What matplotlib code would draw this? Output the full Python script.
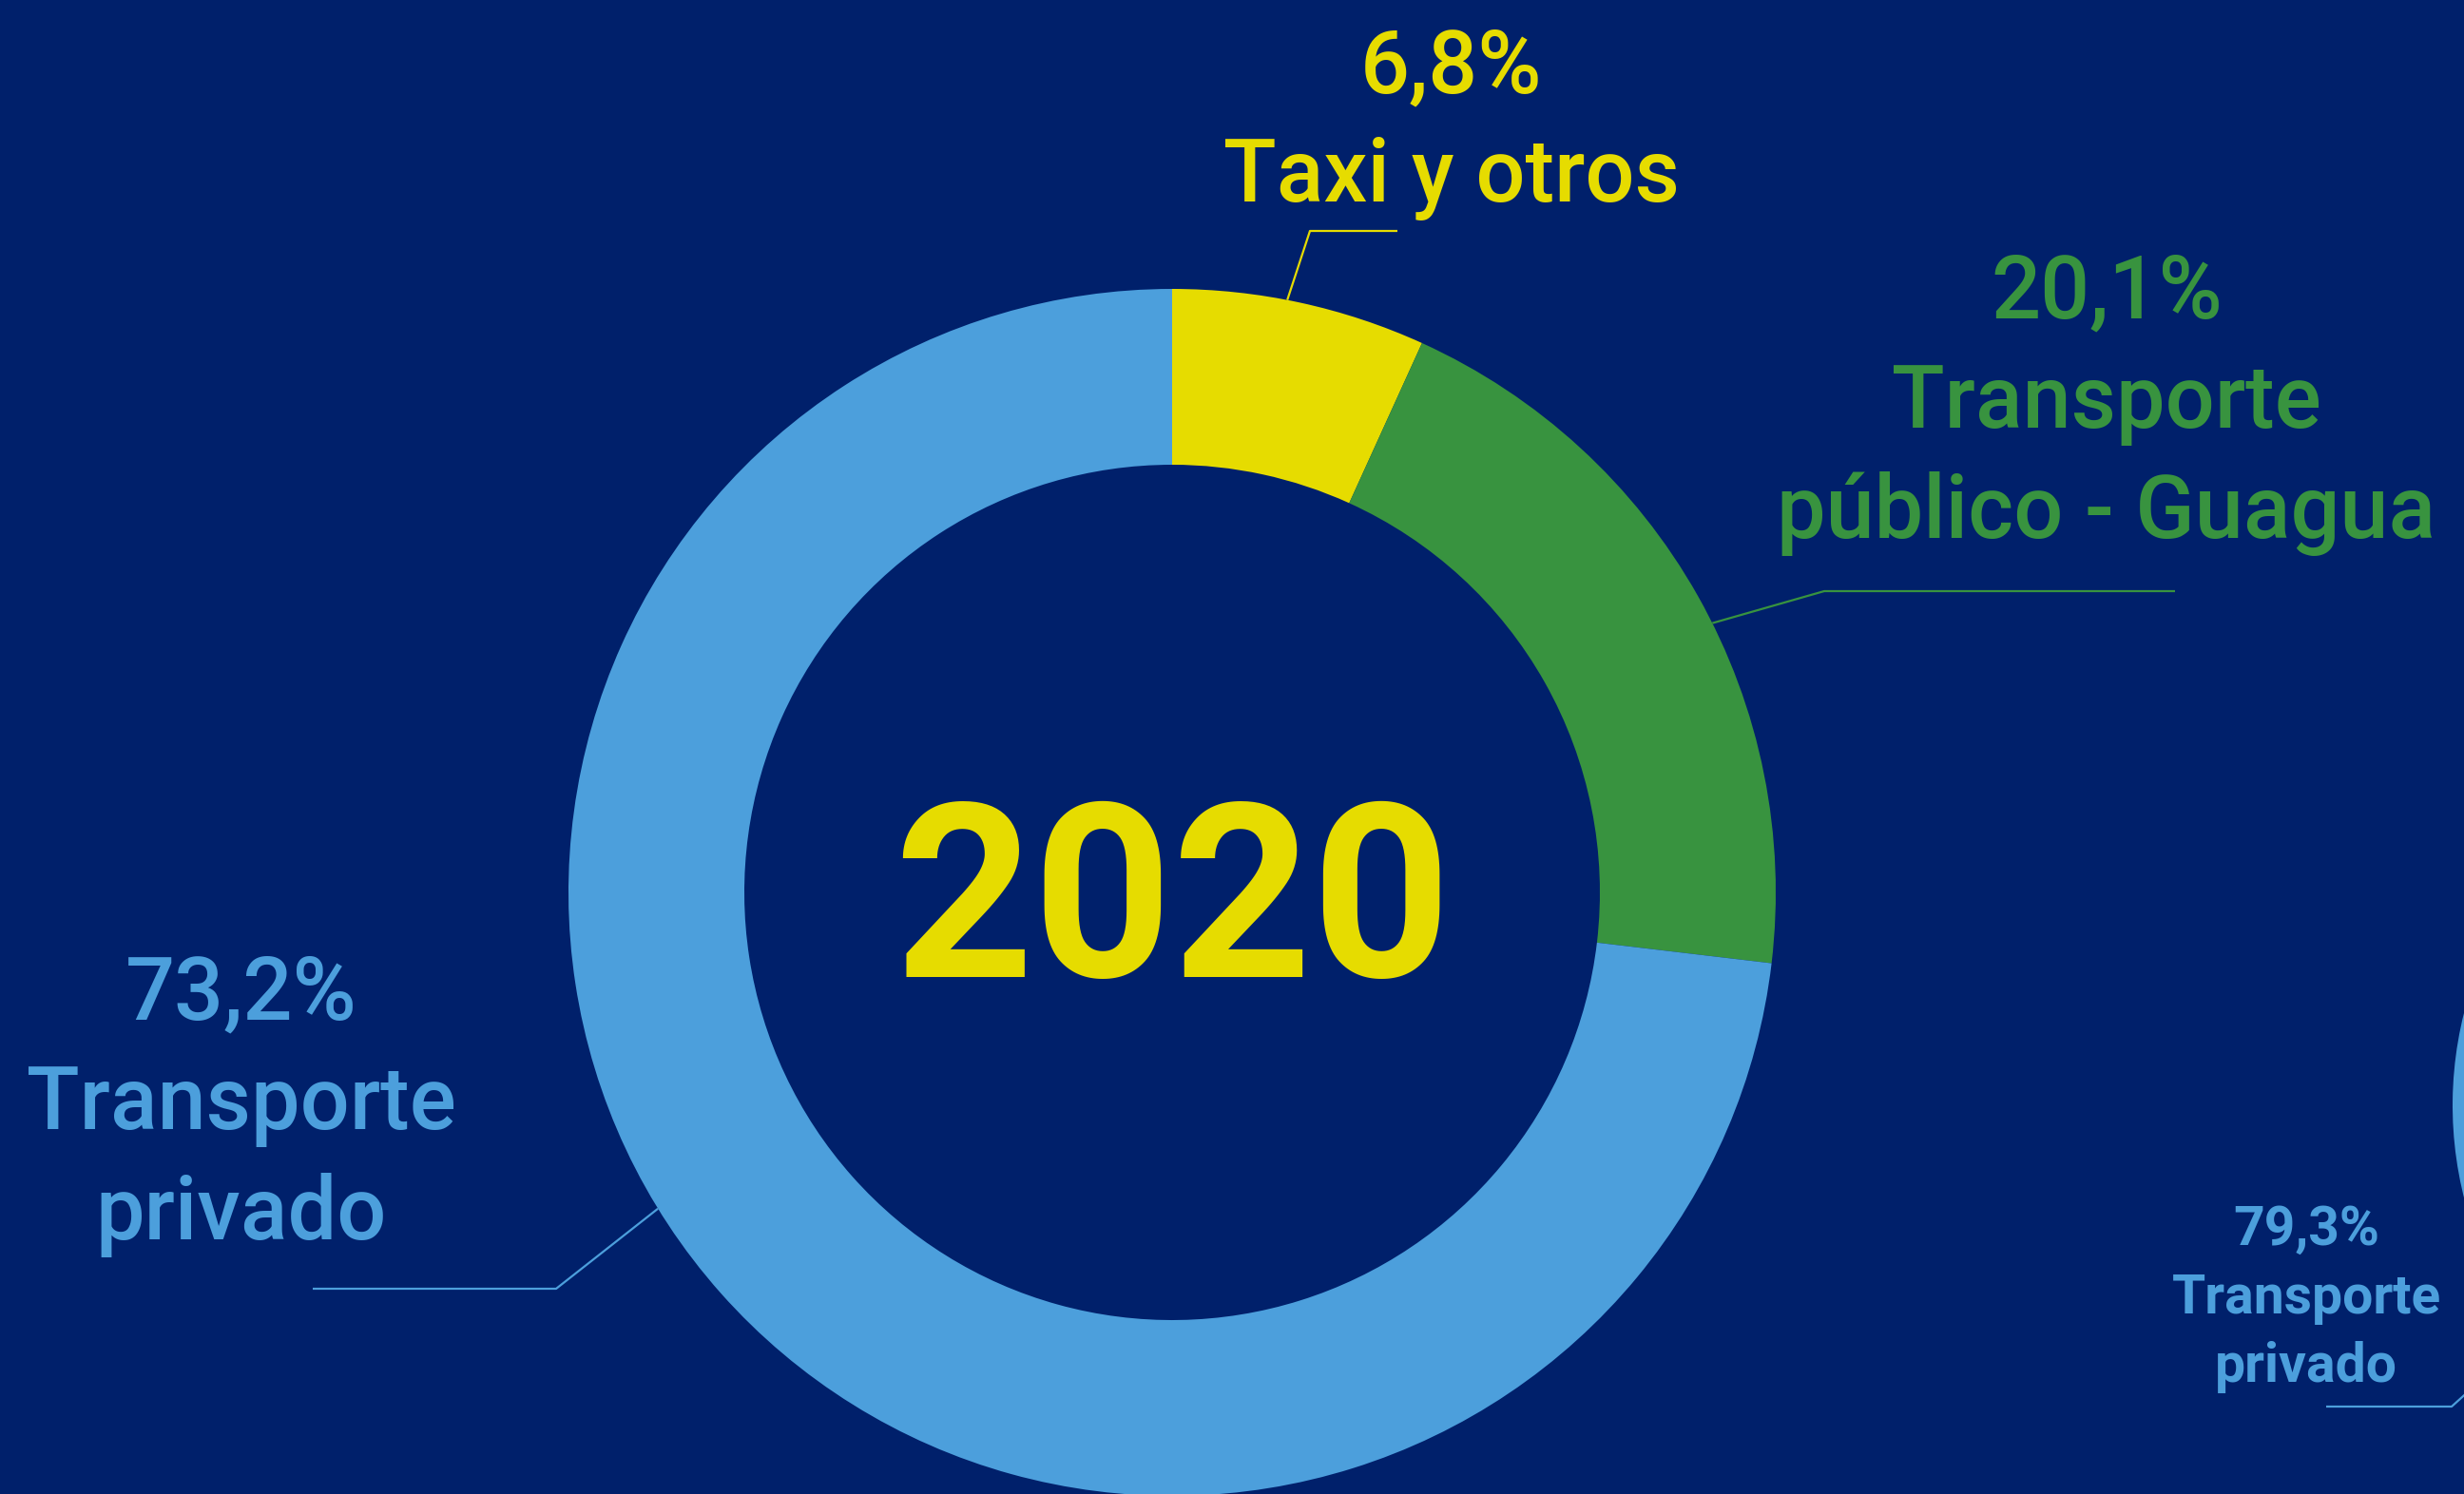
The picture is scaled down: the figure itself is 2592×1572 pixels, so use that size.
import numpy as np
from matplotlib import pyplot as plt

# Canvas size in pixels (dpi 100)
W, H = 2592, 1572

# Colours
navy = '#00206b'
lightBlue = '#4c9fdc'
yellow = '#e6dc00'
green = '#38933f'

# Data, 2020 donut (clockwise from the top)
categories2020 = ['Taxi y otros', 'Transporte\npúblico - Guagua', 'Transporte\nprivado']
shares2020 = [6.8, 20.1, 73.2]
colors2020 = [yellow, green, lightBlue]
year = '2020'

# Data, next donut (only its left edge is on the canvas)
shares2021 = [20.7, 79.3]
colors2021 = [green, lightBlue]
label2021 = 'Transporte\nprivado'


def pct(v):
    return ('%.1f%%' % v).replace('.', ',')


def Y(y):
    # image rows (top = 0) to data y
    return H - y


fig = plt.figure(figsize=(W / 100, H / 100), dpi=100, facecolor=navy)
ax = fig.add_axes([0, 0, 1, 1])
ax.set_facecolor(navy)

font = ['Roboto', 'DejaVu Sans']

# Main donut
cx, cy = 1233, Y(939)
R = 635
ringWidth = 185
ax.pie(shares2020, colors=colors2020, startangle=90, counterclock=False,
       radius=R, center=(cx, cy), frame=True,
       wedgeprops=dict(width=ringWidth, linewidth=0))

# Second donut, mostly off canvas
R2 = 400
ax.pie(shares2021, colors=colors2021, startangle=90, counterclock=False,
       radius=R2, center=(2980, Y(1163)), frame=True,
       wedgeprops=dict(width=R2 * ringWidth / R, linewidth=0))

ax.set_xlim(0, W)
ax.set_ylim(0, H)
ax.set_aspect('equal')
ax.axis('off')

# Year in the hole
ax.text(cx, Y(1028), year, color=yellow, fontsize=184, fontweight='bold',
        family=font, ha='center', va='baseline')

# Labels: text centre x, baseline of first line, line step, leader anchor angle, elbow, end
labelX = [1527, 2216, 254]
firstBaseline = [97, 334, 1072]
lineStep = [115, 116, 116]
anchorAngle = [11, 63.5, 238.4]     # degrees clockwise from the top
elbow = [(1378, 243), (1919, 622), (585, 1356)]
lineEnd = [(1470, 243), (2288, 622), (329, 1356)]

for i in range(len(shares2020)):
    lines = [pct(shares2020[i])] + categories2020[i].split('\n')
    for k, s in enumerate(lines):
        ax.text(labelX[i], Y(firstBaseline[i] + k * lineStep[i]), s,
                color=colors2020[i], fontsize=66, fontweight='medium',
                family=font, ha='center', va='baseline')
    a = np.radians(anchorAngle[i])
    sx = cx + R * np.sin(a)
    sy = cy + R * np.cos(a)
    ax.plot([sx, elbow[i][0], lineEnd[i][0]],
            [sy, Y(elbow[i][1]), Y(lineEnd[i][1])],
            color=colors2020[i], lw=1.6, solid_capstyle='butt')

# Label of the second donut
lines = [pct(shares2021[1])] + label2021.split('\n')
for k, s in enumerate(lines):
    ax.text(2426, Y(1310 + k * 72), s, color=lightBlue, fontsize=41,
            fontweight='bold', family=font, ha='center', va='baseline')
ax.plot([2447, 2579, 2600], [Y(1480), Y(1480), Y(1461)],
        color=lightBlue, lw=1.6, solid_capstyle='butt')

fig.savefig('out.png', dpi=100, facecolor=navy)
